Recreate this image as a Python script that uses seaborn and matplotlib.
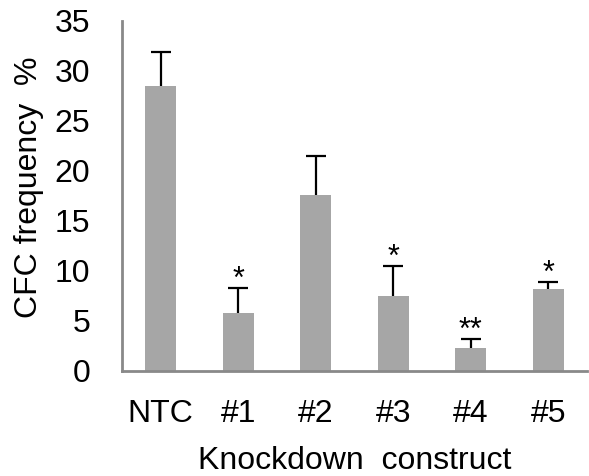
import matplotlib
matplotlib.use("Agg")
import matplotlib.pyplot as plt
import seaborn as sns
import pandas as pd
import numpy as np

categories = ["NTC", "#1", "#2", "#3", "#4", "#5"]
means = [28.5, 5.8, 17.6, 7.5, 2.3, 8.2]
errors = [3.4, 2.5, 3.9, 3.0, 0.9, 0.7]
stars = ["", "*", "", "*", "**", "*"]
yticks = [0, 5, 10, 15, 20, 25, 30, 35]

sns.set_theme(style="white")
plt.rcParams["font.family"] = ["Liberation Sans", "DejaVu Sans"]

df = pd.DataFrame({"construct": categories, "cfc": means})

fig = plt.figure(figsize=(5.89, 4.76), dpi=100)
ax = fig.add_axes([122/589, 1-371/476, (587-122)/589, (371-21)/476])

xpos = np.arange(len(categories))
eb = ax.errorbar(xpos, means, yerr=[np.zeros(len(errors)), errors], fmt="none",
                 ecolor="black", elinewidth=1.6, capsize=7.2, capthick=1.6, zorder=1)
eb[1][0].set_visible(False)

sns.barplot(data=df, x="construct", y="cfc", order=categories, color="#A6A6A6",
            saturation=1, width=0.4, errorbar=None, ax=ax, edgecolor="none", zorder=2)

for x, m, e, s in zip(xpos, means, errors, stars):
    if s:
        ax.text(x, m + e + 0.0, s, ha="center", va="baseline", fontsize=22, color="black")

ax.set_xlim(-0.5, len(categories) - 0.5)
ax.set_ylim(0, 35)
ax.set_yticks(yticks)
ax.set_yticklabels([str(v) for v in yticks])

axis_color = "#898989"
for side in ["top", "right"]:
    ax.spines[side].set_visible(False)
for side in ["left", "bottom"]:
    ax.spines[side].set_color(axis_color)
    ax.spines[side].set_linewidth(2)
    ax.spines[side].set_zorder(3)

ax.set_xticks(xpos)
ax.set_xticklabels(categories)
ax.set_xticks(np.arange(-0.5, len(categories), 1.0), minor=True)
ax.tick_params(axis="x", which="major", length=0, pad=20, labelsize=23, labelcolor="black")
ax.tick_params(axis="x", which="minor", length=9, width=2, color=axis_color, direction="out")
ax.tick_params(axis="y", which="major", length=9, width=2, color=axis_color, direction="out",
               pad=14, labelsize=23, labelcolor="black")

ax.set_ylabel("CFC frequency  %", fontsize=23, color="black")
ax.yaxis.set_label_coords(-0.168, 0.524)
ax.set_xlabel("Knockdown  construct", fontsize=23, color="black")
ax.xaxis.set_label_coords(0.5, -0.215)

fig.savefig("out.png", dpi=100)
